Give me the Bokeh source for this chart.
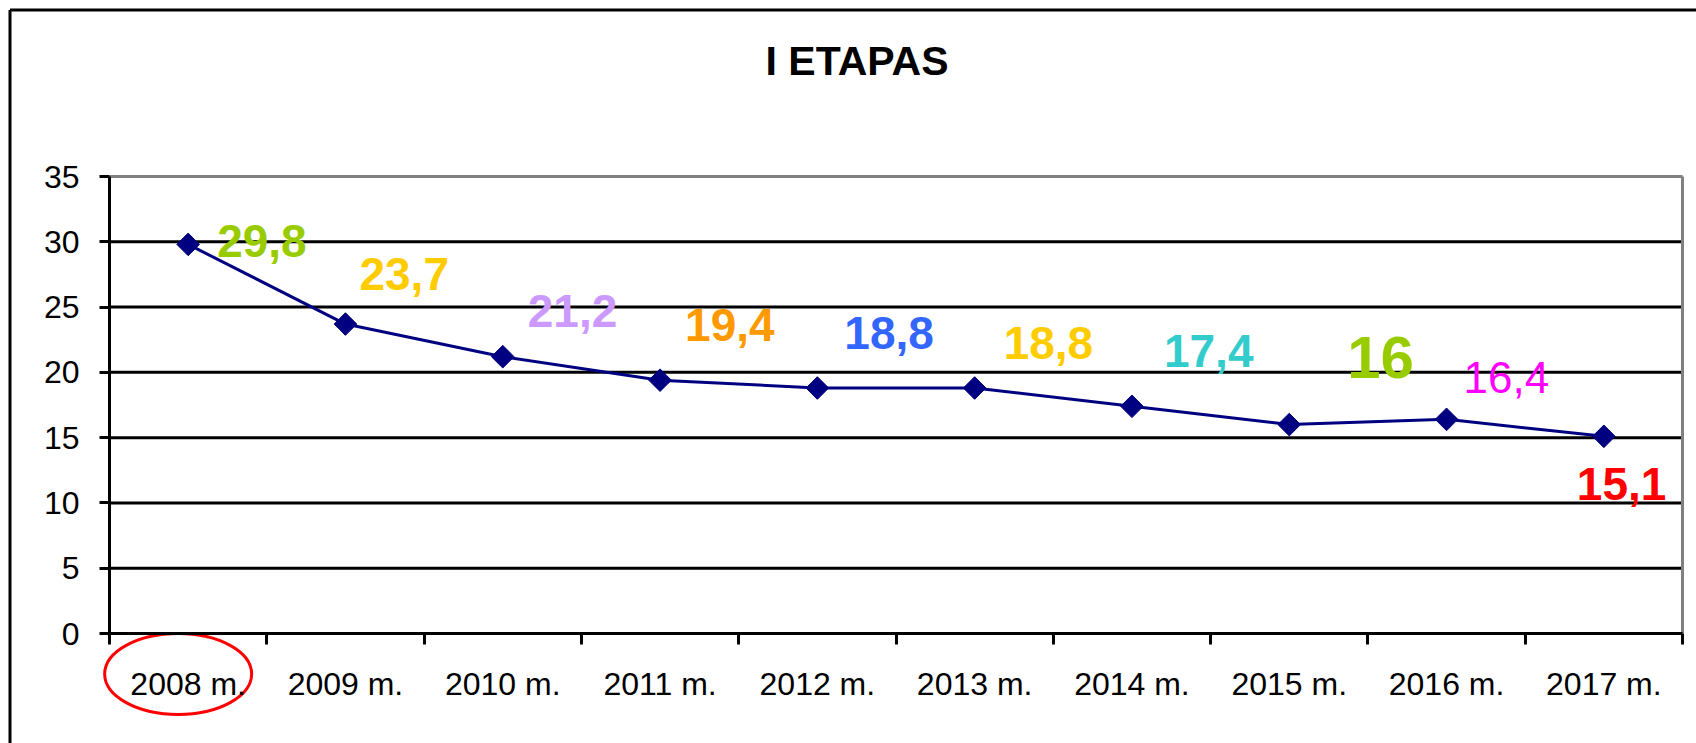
import math
from bokeh.plotting import figure
from bokeh.models import Range1d, FixedTicker, Label, ColumnDataSource
from bokeh.core.properties import value
from bokeh.embed import file_html
from bokeh.resources import INLINE

# ---- data ----
years = ["2008 m.", "2009 m.", "2010 m.", "2011 m.", "2012 m.",
         "2013 m.", "2014 m.", "2015 m.", "2016 m.", "2017 m."]
values = [29.8, 23.7, 21.2, 19.4, 18.8, 18.8, 17.4, 16, 16.4, 15.1]
y_ticks = [0, 5, 10, 15, 20, 25, 30, 35]
title_text = "I ETAPAS"

# ---- label styling (colours, sizes, offsets in px) ----
label_colors = ["#99CC00", "#FFCC00", "#CC99FF", "#FF9900", "#3366FF",
                "#FFCC00", "#33CCCC", "#99CC00", "#FF00FF", "#FF0000"]
label_sizes = ["46px"] * 7 + ["60px", "44px", "46px"]
label_styles = ["bold"] * 8 + ["normal", "bold"]
label_dx = [29, 14, 25, 25, 27, 29, 32, 58, 17, -27]
label_dy = [-3, -50, -46, -55, -55, -45, -55, -67, -42, 48]

FONT = "Liberation Sans"

W, H = 1696, 743
# plot-area geometry on the page (px)
F_LEFT, F_RIGHT, F_TOP, F_BOTTOM = 109, 1682, 176, 633
Y_MAX = 35
n_cat = len(years)
px_x = (F_RIGHT - F_LEFT) / n_cat
px_y = (F_BOTTOM - F_TOP) / Y_MAX

x_pos = [i + 0.5 for i in range(n_cat)]
labels = [f"{v:g}".replace(".", ",") for v in values]

src = ColumnDataSource(dict(x=x_pos, y=values, txt=labels, col=label_colors,
                            size=label_sizes, style=label_styles,
                            dx=label_dx, dy=label_dy))

p = figure(width=W, height=H,
           x_range=Range1d(-F_LEFT / px_x, n_cat + (W - F_RIGHT) / px_x),
           y_range=Range1d(-(H - F_BOTTOM) / px_y, Y_MAX + F_TOP / px_y),
           output_backend="svg", toolbar_location=None,
           min_border=0)
p.outline_line_color = None
p.background_fill_color = "white"
p.border_fill_color = "white"
p.grid.visible = False

# x axis: labels centred in categories, ticks between categories
xa = p.xaxis[0]
xa.fixed_location = 0
xa.bounds = (0, n_cat)
xa.ticker = FixedTicker(ticks=x_pos, minor_ticks=list(range(n_cat + 1)))
xa.major_label_overrides = {x: y for x, y in zip(x_pos, years)}
xa.major_tick_out = 0
xa.major_tick_in = 0
xa.minor_tick_out = 11
xa.minor_tick_in = 0
xa.minor_tick_line_width = 3
xa.minor_tick_line_color = "black"
xa.axis_line_width = 3
xa.axis_line_color = "black"
xa.major_label_text_font = FONT
xa.major_label_text_font_size = "32px"
xa.major_label_text_color = "black"
xa.major_label_standoff = 21

ya = p.yaxis[0]
ya.fixed_location = 0
ya.bounds = (0, Y_MAX)
ya.ticker = FixedTicker(ticks=y_ticks)
ya.major_tick_out = 10
ya.major_tick_in = 0
ya.minor_tick_out = 0
ya.minor_tick_in = 0
ya.major_tick_line_width = 3
ya.major_tick_line_color = "black"
ya.axis_line_width = 3
ya.axis_line_color = "black"
ya.major_label_text_font = FONT
ya.major_label_text_font_size = "32px"
ya.major_label_text_color = "black"
ya.major_label_standoff = 20

# horizontal gridlines (black) inside the plot area
g_ticks = [t for t in y_ticks if 0 < t < Y_MAX]
p.segment(x0=[0] * len(g_ticks), x1=[n_cat] * len(g_ticks), y0=g_ticks, y1=g_ticks,
          line_color="black", line_width=3)
# plot-area border (grey top and right)
p.segment(x0=[0, n_cat], x1=[n_cat, n_cat], y0=[Y_MAX, 0], y1=[Y_MAX, Y_MAX],
          line_color="#808080", line_width=3)

# series
p.line(x="x", y="y", source=src, line_color="#000080", line_width=3)
p.scatter(x="x", y="y", source=src, marker="square", angle=math.pi / 4,
          size=16, fill_color="#000080", line_color="#000080")

# value labels
p.text(x="x", y="y", text="txt", source=src, text_color="col",
       text_font_size="size", text_font_style="style", text_font=value(FONT),
       text_align="left", text_baseline="middle", x_offset="dx", y_offset="dy")

# title
p.add_layout(Label(x=(856.5 - F_LEFT) / px_x, y=(F_BOTTOM - 60) / px_y, text=title_text,
                   text_font=FONT, text_font_size="41px", text_font_style="bold",
                   text_align="center", text_baseline="middle", text_color="black"))

# red ellipse around first category label
p.ellipse(x=[x_pos[0] - 10 / px_x], y=[-40.5 / px_y], width=147, height=81,
          width_units="screen", height_units="screen",
          fill_alpha=0, line_color="#FF0000", line_width=3)

# outer chart border (left & top, the rest is cut off)
bx = (9.5 - F_LEFT) / px_x
by = (F_BOTTOM - 9.5) / px_y
p.segment(x0=[bx, bx], x1=[bx, n_cat + 1], y0=[-20, by], y1=[by, by],
          line_color="black", line_width=3)

open("out.html", "w").write(file_html(p, INLINE))
